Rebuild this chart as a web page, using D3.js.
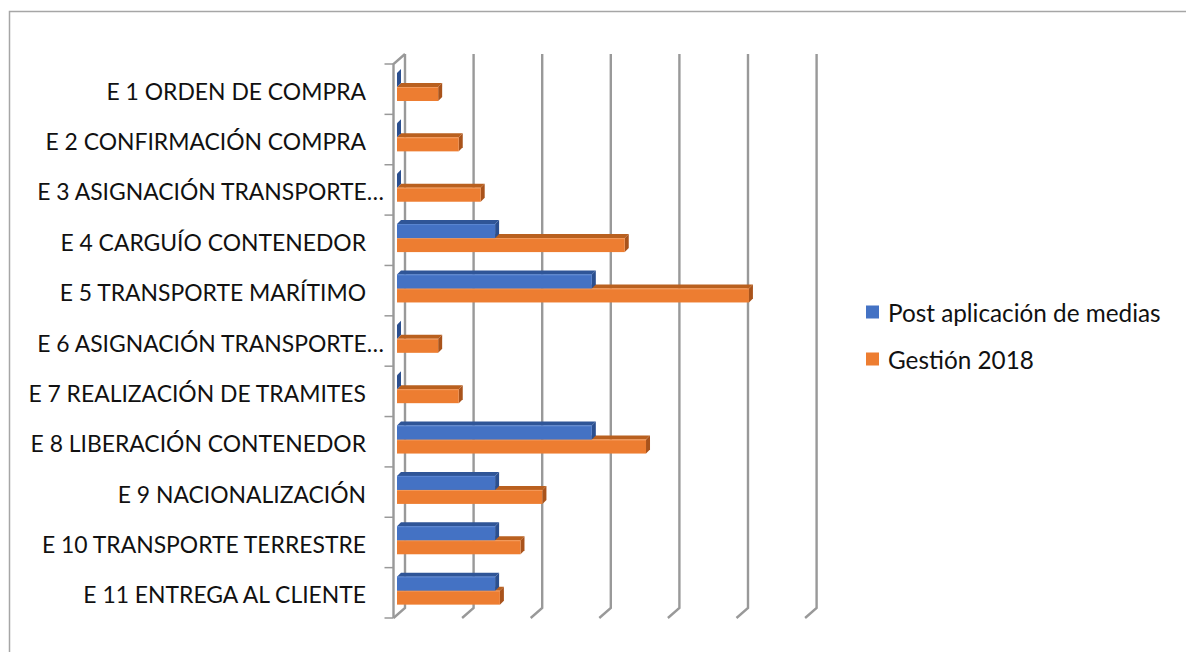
<!DOCTYPE html>
<html><head><meta charset="utf-8">
<script src="https://cdn.jsdelivr.net/npm/d3@7/dist/d3.min.js"></script>
<style>body{margin:0;background:#fff}svg{display:block}text{font-family:Lato,"Noto Sans",sans-serif;fill:#111}</style>
</head><body><svg id="c" width="1186" height="652"></svg>
<script>
const categories = ["E 1 ORDEN DE COMPRA","E 2 CONFIRMACIÓN COMPRA","E 3 ASIGNACIÓN TRANSPORTE…","E 4 CARGUÍO CONTENEDOR","E 5 TRANSPORTE MARÍTIMO","E 6 ASIGNACIÓN TRANSPORTE…","E 7 REALIZACIÓN DE TRAMITES","E 8 LIBERACIÓN CONTENEDOR","E 9 NACIONALIZACIÓN","E 10 TRANSPORTE TERRESTRE","E 11 ENTREGA AL CLIENTE"];
const seriesNames = ["Post aplicación de medias","Gestión 2018"];
const postValues = [0,0,0,1.43,2.84,0,0,2.84,1.43,1.43,1.43];
const gestionValues = [0.6,0.9,1.22,3.32,5.13,0.6,0.9,3.63,2.12,1.8,1.5];
const ticks = [0,1,2,3,4,5,6];

const svg = d3.select("#c");
// outer frame
svg.append("path").attr("d","M9.5,652V11.5H1186").attr("fill","none").attr("stroke","#a6a6a6").attr("stroke-width",1.5);

const unit = 68.6;
const xBar = d3.scaleLinear().domain([0,6]).range([397,397+6*unit]);
const xBack = d3.scaleLinear().domain([0,6]).range([405,405+6*unit]);
const y = d3.scaleBand().domain(categories).range([64,618]).paddingInner(0).paddingOuter(0);
const bw = y.bandwidth();
const backTop=54, backBot=608, ddx=-11.5, ddy=10;
const grid = svg.append("g").attr("fill","none").attr("stroke","#999999").attr("stroke-width",2.4);
ticks.forEach(v=>{
  const xb = xBack(v);
  grid.append("path").attr("d",`M${xb},${backTop}V${backBot}L${xb+ddx},${backBot+ddy}`);
});
// left wall
grid.append("path").attr("d",`M${xBack(0)},${backTop}L${xBack(0)+ddx},${backTop+ddy}V${backBot+ddy}`);
// category ticks
const tickYs = categories.map(c=>y(c)).concat([y(categories[categories.length-1])+bw]);
tickYs.forEach(t=>{
  grid.append("line").attr("x1",xBack(0)+ddx-9).attr("x2",xBack(0)+ddx).attr("y1",t).attr("y2",t).attr("stroke-width",1.5);
});

// bars
const dx=4, dy=-4, bh=bw*0.278;
const styles = [
  {front:"#4472c4", top:"#2f5597", side:"#2b4f8f", edge:"#5b86d1"},
  {front:"#ed7d31", top:"#b9601f", side:"#a9531b", edge:"#f39a5c"}
];
function bar(g, x0, x1, yTop, st){
  g.append("path").attr("d",`M${x0},${yTop}L${x0+dx},${yTop+dy}H${x1+dx}L${x1},${yTop}Z`).attr("fill",st.top);
  g.append("path").attr("d",`M${x1},${yTop}L${x1+dx},${yTop+dy}V${yTop+bh+dy}L${x1},${yTop+bh}Z`).attr("fill",st.side);
  if(x1>x0){
    g.append("rect").attr("x",x0).attr("y",yTop).attr("width",x1-x0).attr("height",bh).attr("fill",st.front);
    g.append("line").attr("x1",x0).attr("x2",x1).attr("y1",yTop+0.5).attr("y2",yTop+0.5).attr("stroke",st.edge).attr("stroke-width",1);
  }
}
const bars = svg.append("g");
categories.forEach((c,i)=>{
  const t = y(c);
  const g = bars.append("g");
  bar(g, xBar(0), xBar(gestionValues[i]), t+9+bh, styles[1]);
  bar(g, xBar(0), xBar(postValues[i]), t+9, styles[0]);
});

// labels
const labels = svg.append("g").attr("font-size",22.9);
categories.forEach(c=>{
  const trunc = c.endsWith("…");
  labels.append("text").attr("x", trunc?384:366).attr("y", y(c)+bw/2+1.5)
    .attr("text-anchor","end").attr("dominant-baseline","central").text(c);
});

// legend
const leg = svg.append("g");
const legY = [312, 359];
seriesNames.forEach((n,i)=>{
  leg.append("rect").attr("x",866).attr("y",legY[i]-6.5).attr("width",13).attr("height",13).attr("fill",styles[i].front);
  leg.append("text").attr("x",888).attr("y",legY[i]).attr("dominant-baseline","central").attr("font-size",24.3).text(n);
});
</script></body></html>
